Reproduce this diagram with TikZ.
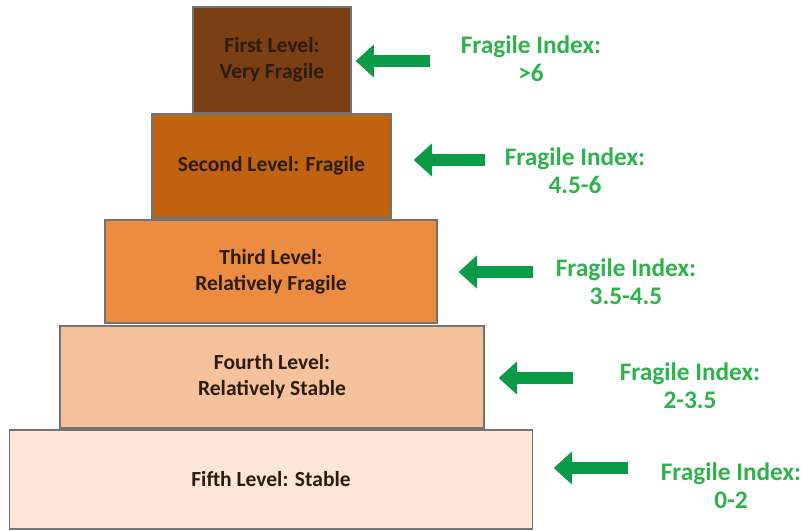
\documentclass[tikz,border=0pt]{standalone}
\usepackage{fontspec}
\setmainfont{Carlito}
\usetikzlibrary{arrows.meta}

\definecolor{lvlone}{HTML}{7A3F12}
\definecolor{lvltwo}{HTML}{C0620F}
\definecolor{lvlthree}{HTML}{EB8C40}
\definecolor{lvlfour}{HTML}{F6C29C}
\definecolor{lvlfive}{HTML}{FBE6D8}
\definecolor{idxgreen}{HTML}{2EB34C}
\definecolor{ptrgreen}{HTML}{0A9A48}
\definecolor{lvltext}{HTML}{2B1C0E}

\tikzset{
  level/.style={draw=black!55, line width=0.8pt, inner sep=0pt, align=center,
    text=lvltext, font=\fontsize{15.3}{18.5}\selectfont\bfseries},
  idx/.style={align=center, text=idxgreen, font=\fontsize{18}{20}\selectfont\bfseries},
  pointer/.style={draw=ptrgreen!70!black, line width=0.3cm, color=ptrgreen,
    -{Triangle[width=0.8cm,length=0.46cm]}}
}

\begin{document}
\begin{tikzpicture}[x=0.025cm,y=-0.025cm]
        \useasboundingbox (0,0) rectangle (803,531);
        % Draw the levels, bottom to top
        \node[level, fill=lvlfive, minimum width=13.05cm, minimum height=2.475cm] (five) at (271,479.5) {Fifth Level: Stable};
        \node[level, fill=lvlfour, minimum width=10.6cm, minimum height=2.55cm] (four) at (272,377) {Fourth Level:\\Relatively Stable};
        \node[level, fill=lvlthree, minimum width=8.3cm, minimum height=2.575cm] (three) at (271,271.5) {Third Level:\\Relatively Fragile};
        \node[level, fill=lvltwo, minimum width=5.975cm, minimum height=2.6cm] (two) at (271.5,166) {Second Level: Fragile};
        \node[level, fill=lvlone, minimum width=3.95cm, minimum height=2.65cm] (one) at (272,60) {First Level:\\Very Fragile};
        % Index labels
        \node[idx] (idxone) at (531,59) {Fragile Index:\\>6};
        \node[idx] (idxtwo) at (575,171) {Fragile Index:\\4.5-6};
        \node[idx] (idxthree) at (626,282) {Fragile Index:\\3.5-4.5};
        \node[idx] (idxfour) at (690,386) {Fragile Index:\\2-3.5};
        \node[idx] (idxfive) at (731,486) {Fragile Index:\\0-2};
        % Arrow tails
        \coordinate (tailone) at (430,61);
        \coordinate (tailtwo) at (485,160);
        \coordinate (tailthree) at (533,272);
        \coordinate (tailfour) at (573,378);
        \coordinate (tailfive) at (628,468);
        % Draw the arrows
        \draw[pointer, shorten >=0.1cm] (tailone) -- (one.east |- tailone);
        \draw[pointer, shorten >=0.55cm] (tailtwo) -- (two.east |- tailtwo);
        \draw[pointer, shorten >=0.525cm] (tailthree) -- (three.east |- tailthree);
        \draw[pointer, shorten >=0.35cm] (tailfour) -- (four.east |- tailfour);
        \draw[pointer, shorten >=0.525cm] (tailfive) -- (five.east |- tailfive);
\end{tikzpicture}
\end{document}
